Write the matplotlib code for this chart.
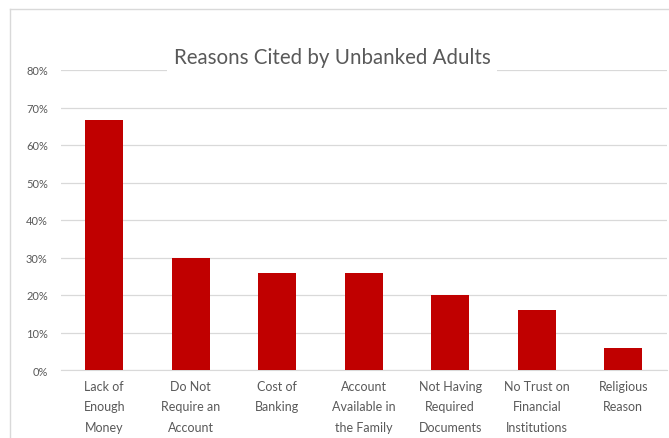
import matplotlib.pyplot as plt
from matplotlib.lines import Line2D
from matplotlib.ticker import PercentFormatter

plt.rcParams['font.family'] = ['Lato', 'DejaVu Sans']

categories = [
    "Lack of\nEnough\nMoney",
    "Do Not\nRequire an\nAccount",
    "Cost of\nBanking",
    "Account\nAvailable in\nthe Family",
    "Not Having\nRequired\nDocuments",
    "No Trust on\nFinancial\nInstitutions",
    "Religious\nReason",
]
shares = [0.667, 0.30, 0.26, 0.26, 0.20, 0.16, 0.06]
y_ticks = [0.0, 0.1, 0.2, 0.3, 0.4, 0.5, 0.6, 0.7, 0.8]

W, H = 669, 439
fig = plt.figure(figsize=(W / 100, H / 100), dpi=100)
ax = fig.add_axes([61 / W, 1 - 371 / H, 605.5 / W, 300 / H])

x = range(len(categories))
ax.bar(x, shares, width=0.44, color="#C00000", zorder=3)

ax.set_xlim(-0.5, len(categories) - 0.5)
ax.set_ylim(0, 0.8)
ax.set_yticks(y_ticks)
ax.yaxis.set_major_formatter(PercentFormatter(1.0, decimals=0))
ax.set_xticks(list(x))
ax.set_xticklabels(categories, linespacing=1.85)
ax.tick_params(axis="y", length=0, pad=9.5, labelsize=8, labelcolor="#595959")
ax.tick_params(axis="x", length=0, pad=7, labelsize=9, labelcolor="#595959")
ax.grid(axis="y", color="#d9d9d9", linewidth=0.9, zorder=0)
for s in ["top", "right", "left"]:
    ax.spines[s].set_visible(False)
ax.spines["bottom"].set_color("#d9d9d9")

# chart frame (cropped at right and bottom)
fig.add_artist(Line2D([10 / W, 10 / W], [0, 1 - 10 / H], color="#d9d9d9", lw=1))
fig.add_artist(Line2D([10 / W, 1], [1 - 10 / H, 1 - 10 / H], color="#d9d9d9", lw=1))

fig.text(332 / W, 1 - 58 / H, "Reasons Cited by Unbanked Adults", ha="center", va="center",
         fontsize=14.8, color="#595959",
         bbox=dict(boxstyle="square,pad=0.3", facecolor="white", edgecolor="none"))

fig.savefig("out.png", dpi=100, facecolor="white")
